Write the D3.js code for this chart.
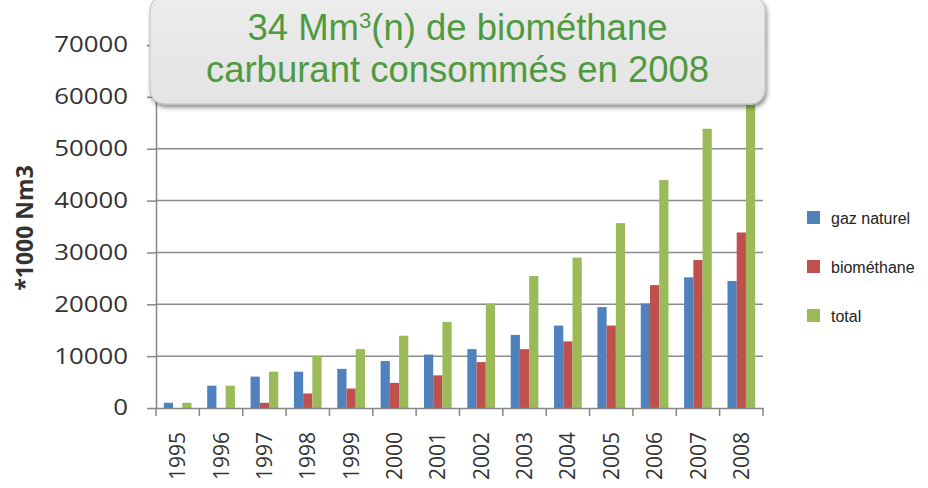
<!DOCTYPE html>
<html>
<head>
<meta charset="utf-8">
<script src="https://cdn.jsdelivr.net/npm/d3@7"></script>
<style>
  html, body { margin: 0; padding: 0; background: #ffffff; }
  svg { display: block; }
</style>
</head>
<body>
<svg id="chart" width="928" height="488"></svg>
<script>
// ---- data ----
const years = ["1995","1996","1997","1998","1999","2000","2001","2002","2003","2004","2005","2006","2007","2008"];
const gazNaturel = [1000, 4300, 6050, 7000, 7550, 9050, 10300, 11350, 14100, 15900, 19450, 20150, 25200, 24500];
const biomethane = [0, 0, 1000, 2800, 3750, 4850, 6300, 8850, 11350, 12850, 15900, 23700, 28550, 33850];
const total = [1000, 4300, 7000, 10050, 11350, 13950, 16600, 20150, 25450, 29000, 35650, 43950, 53850, 58400];
const seriesNames = ["gaz naturel", "biométhane", "total"];
const seriesColors = ["#4F81BD", "#C0504D", "#9BBB59"];
const yTicks = [0, 10000, 20000, 30000, 40000, 50000, 60000, 70000];
const yTitle = "*1000 Nm3";
const titleLine1a = "34 Mm";
const titleSup = "3";
const titleLine1b = "(n) de biométhane";
const titleLine2 = "carburant consommés en 2008";

const seriesValues = [gazNaturel, biomethane, total];

(function () {
const svg = d3.select("#chart");
const pLeft = 156, pRight = 763, pTop = 45, pBottom = 408;

const x0 = d3.scaleBand().domain(years).range([pLeft, pRight]).padding(0);
const x1 = d3.scaleBand().domain(seriesNames).range([0, x0.bandwidth()]).paddingInner(0).paddingOuter(0.85);
const y = d3.scaleLinear().domain([0, 70000]).range([pBottom, pTop]);

// gridlines
svg.append("g")
  .selectAll("line")
  .data(yTicks.filter(d => d > 0))
  .join("line")
  .attr("x1", pLeft).attr("x2", pRight)
  .attr("y1", d => y(d)).attr("y2", d => y(d))
  .attr("stroke", "#8c8c8c").attr("stroke-width", 1.5);

// bars
const groups = svg.append("g")
  .selectAll("g")
  .data(years)
  .join("g")
  .attr("transform", d => `translate(${x0(d)},0)`);

groups.selectAll("rect")
  .data((yr, i) => seriesNames.map((s, k) => ({ s, k, v: seriesValues[k][i] })))
  .join("rect")
  .attr("x", d => x1(d.s))
  .attr("width", x1.bandwidth())
  .attr("y", d => y(d.v))
  .attr("height", d => y(0) - y(d.v))
  .attr("fill", d => seriesColors[d.k]);

// y axis
const yAxis = svg.append("g")
  .attr("transform", `translate(${pLeft},0)`)
  .call(d3.axisLeft(y).tickValues(yTicks).tickSize(9).tickSizeOuter(0).tickFormat(d3.format("d")));
yAxis.select(".domain").attr("stroke", "#868686").attr("stroke-width", 1.5);
yAxis.selectAll(".tick line").attr("stroke", "#868686").attr("stroke-width", 1.5);
yAxis.selectAll(".tick text")
  .attr("x", 0)
  .attr("transform", "translate(-28,0) scale(1.2,1)")
  .attr("font-family", "'Open Sans', sans-serif")
  .attr("font-size", 21.5)
  .attr("fill", "#333333");

// x axis
const xAxis = svg.append("g")
  .attr("transform", `translate(0,${pBottom})`)
  .call(d3.axisBottom(x0).tickSize(0).tickSizeOuter(0));
xAxis.select(".domain").attr("stroke", "#868686").attr("stroke-width", 1.5);
xAxis.selectAll(".tick text")
  .attr("transform", "rotate(-90)")
  .attr("x", -24)
  .attr("y", 0)
  .attr("dy", "0.36em")
  .attr("text-anchor", "end")
  .attr("font-family", "'Open Sans', sans-serif")
  .attr("font-size", 21)
  .attr("fill", "#333333");
// category separator ticks
const sepX = years.map(d => x0(d)).concat([x0(years[years.length - 1]) + x0.bandwidth()]);
svg.append("g")
  .selectAll("line")
  .data(sepX)
  .join("line")
  .attr("x1", d => d).attr("x2", d => d)
  .attr("y1", pBottom).attr("y2", pBottom + 8)
  .attr("stroke", "#868686").attr("stroke-width", 1.5);

// y title
svg.append("text")
  .attr("transform", `translate(33,228) rotate(-90)`)
  .attr("text-anchor", "middle")
  .attr("font-family", "'Open Sans', sans-serif")
  .attr("font-weight", "bold")
  .attr("font-size", 23)
  .attr("fill", "#333333")
  .text(yTitle);

// legend
const legend = svg.append("g").attr("transform", "translate(807,0)");
const legendY = [218, 267, 316];
seriesNames.forEach((name, i) => {
  legend.append("rect")
    .attr("x", 0).attr("y", legendY[i] - 7)
    .attr("width", 13).attr("height", 13)
    .attr("fill", seriesColors[i]);
  legend.append("text")
    .attr("x", 24).attr("y", legendY[i] + 5.5)
    .attr("font-family", "'Liberation Sans', Arial, sans-serif")
    .attr("font-size", 16)
    .attr("fill", "#222222")
    .text(name);
});

// title box
const defs = svg.append("defs");
const grad = defs.append("linearGradient").attr("id", "boxGrad").attr("x1", 0).attr("y1", 0).attr("x2", 0).attr("y2", 1);
grad.append("stop").attr("offset", "0%").attr("stop-color", "#ececec");
grad.append("stop").attr("offset", "100%").attr("stop-color", "#e4e4e4");
const filt = defs.append("filter").attr("id", "shadow").attr("x", "-10%").attr("y", "-10%").attr("width", "120%").attr("height", "130%");
filt.append("feDropShadow").attr("dx", 1.5).attr("dy", 3).attr("stdDeviation", 2.2)
  .attr("flood-color", "#000").attr("flood-opacity", 0.45);

svg.append("rect")
  .attr("x", 150).attr("y", -4)
  .attr("width", 615).attr("height", 108)
  .attr("rx", 14).attr("ry", 14)
  .attr("fill", "url(#boxGrad)")
  .attr("stroke", "#bdbdbd").attr("stroke-width", 1)
  .attr("filter", "url(#shadow)");

const t1 = svg.append("text")
  .attr("x", 457.5).attr("y", 40)
  .attr("text-anchor", "middle")
  .attr("font-family", "'Liberation Sans', Arial, sans-serif")
  .attr("font-size", 36.5)
  .attr("fill", "#4f9a40");
t1.append("tspan").text(titleLine1a);
t1.append("tspan").attr("font-size", 22).attr("dy", -12).text(titleSup);
t1.append("tspan").attr("dy", 12).text(titleLine1b);

svg.append("text")
  .attr("x", 457.5).attr("y", 82)
  .attr("text-anchor", "middle")
  .attr("font-family", "'Liberation Sans', Arial, sans-serif")
  .attr("font-size", 36.5)
  .attr("fill", "#4f9a40")
  .text(titleLine2);
})();
</script>
</body>
</html>
